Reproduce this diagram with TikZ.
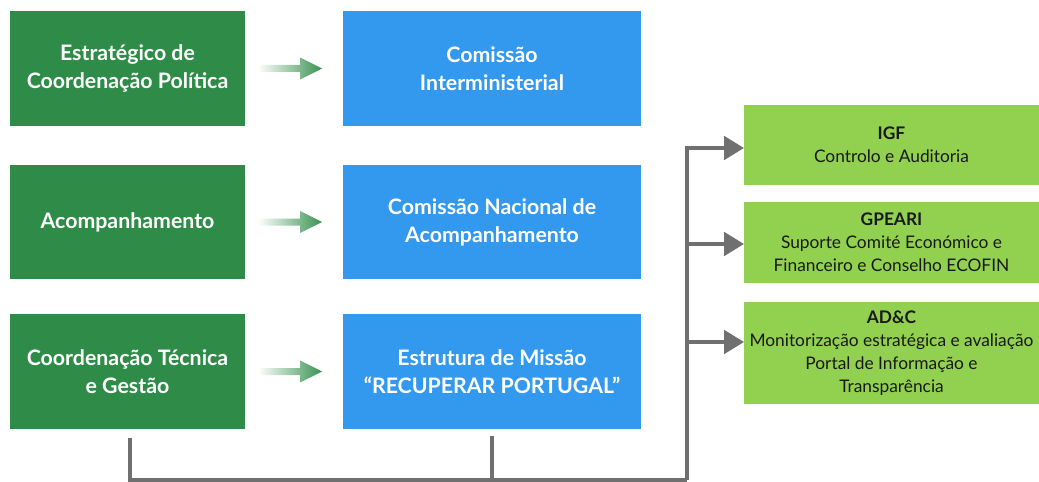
\documentclass[tikz,border=0pt]{standalone}
\usepackage{fontspec}
\setmainfont{Lato}
\usepackage{tikz}
\usetikzlibrary{arrows.meta,calc,positioning}
\definecolor{darkgreen}{RGB}{46,140,72}
\definecolor{midblue}{RGB}{51,153,238}
\definecolor{lightgreen}{RGB}{146,208,80}
\definecolor{linkgray}{RGB}{112,112,112}

\tikzset{
  leftbox/.style={fill=darkgreen,minimum width=7.05cm,minimum height=3.42cm,inner sep=0pt,outer sep=0pt,text=white,align=center,font=\fontsize{18.2}{24}\selectfont\bfseries},
  midbox/.style={fill=midblue,minimum width=8.94cm,minimum height=3.42cm,inner sep=0pt,outer sep=0pt,text=white,align=center,font=\fontsize{18.2}{24}\selectfont\bfseries},
  rightbox/.style={fill=lightgreen,minimum width=8.85cm,inner sep=0pt,outer sep=0pt,text=black!90,align=center,font=\fontsize{14.8}{19.8}\selectfont},
  link/.style={draw=linkgray,line width=3.4pt,line join=miter},
  linkarrow/.style={link,-{Triangle[length=6mm,width=7mm]}},
  fadearrow/.style={left color=white,right color=darkgreen!95}
}

\begin{document}
\begin{tikzpicture}[x=0.03cm,y=-0.03cm]
	\useasboundingbox (0,0) rectangle (1039,482);
	\coordinate (hub) at (687,480);

	\node (g1) at (127.5,68.5) [leftbox] {Estratégico de\\Coordenação Política};
	\node (g2) at (127.5,222) [leftbox] {Acompanhamento};
	\node (g3) at (127.5,371.5) [leftbox] {Coordenação Técnica\\e Gestão};

	\node (b1) at (492,68.5) [midbox] {Comissão\\Interministerial};
	\node (b2) at (492,222) [midbox] {Comissão Nacional de\\Acompanhamento};
	\node (b3) at (492,371.5) [midbox] {Estrutura de Missão\\“RECUPERAR PORTUGAL”};

	\node (r1) at (891.5,145) [rightbox,minimum height=2.4cm] {\textbf{IGF}\\Controlo e Auditoria};
	\node (r2) at (891.5,242.5) [rightbox,minimum height=2.43cm] {\textbf{GPEARI}\\Suporte Comité Económico e\\Financeiro e Conselho ECOFIN};
	\node (r3) at (891.5,353) [rightbox,minimum height=3.06cm] {\textbf{AD\&C}\\Monitorização estratégica e avaliação\\Portal de Informação e\\Transparência};

	% faded arrows
	\shade[fadearrow] ($(g1.east)+(13,-3.5)$) -- ($(g1.east)+(55,-3.5)$) -- ($(g1.east)+(55,-11)$) -- ($(g1.east)+(77,0)$) -- ($(g1.east)+(55,11)$) -- ($(g1.east)+(55,3.5)$) -- ($(g1.east)+(13,3.5)$) -- cycle;
	\shade[fadearrow] ($(g2.east)+(13,-3.5)$) -- ($(g2.east)+(55,-3.5)$) -- ($(g2.east)+(55,-11)$) -- ($(g2.east)+(77,0)$) -- ($(g2.east)+(55,11)$) -- ($(g2.east)+(55,3.5)$) -- ($(g2.east)+(13,3.5)$) -- cycle;
	\shade[fadearrow] ($(g3.east)+(13,-3.5)$) -- ($(g3.east)+(55,-3.5)$) -- ($(g3.east)+(55,-11)$) -- ($(g3.east)+(77,0)$) -- ($(g3.east)+(55,11)$) -- ($(g3.east)+(55,3.5)$) -- ($(g3.east)+(13,3.5)$) -- cycle;

	% gray connectors
	\draw[link] ($(g3.south)+(2.5,9)$) |- (hub);
	\draw[link] ($(b3.south)+(0,7)$) -- (b3.south |- hub);
	\draw[linkarrow] (hub) |- ($(r1.west)+(0,3)$);
	\draw[linkarrow] ($(hub |- r2.west)+(0,1.5)$) -- ($(r2.west)+(0,1.5)$);
	\draw[linkarrow] ($(hub |- r3.west)+(0,-11)$) -- ($(r3.west)+(0,-11)$);
\end{tikzpicture}
\end{document}
